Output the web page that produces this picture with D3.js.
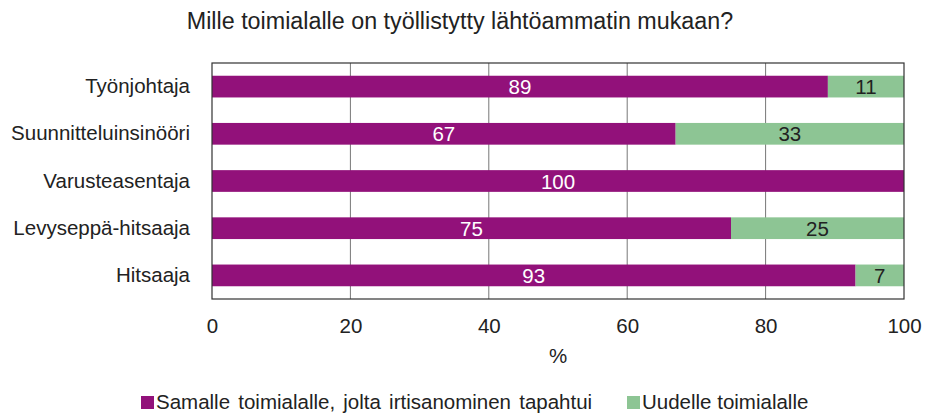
<!DOCTYPE html>
<html><head><meta charset="utf-8">
<script src="https://cdn.jsdelivr.net/npm/d3@7"></script>
<style>body{margin:0;background:#fff}svg text{font-family:"Liberation Sans",Arial,sans-serif;}</style>
</head><body><svg id="c" width="926" height="415"></svg>
<script>
const categories = ["Työnjohtaja","Suunnitteluinsinööri","Varusteasentaja","Levyseppä-hitsaaja","Hitsaaja"];
const same = [89,67,100,75,93];
const newInd = [11,33,0,25,7];
const seriesNames = ["Samalle toimialalle, jolta irtisanominen tapahtui","Uudelle toimialalle"];
const xTicks = [0,20,40,60,80,100];
const colors = ["#92117a","#8dc594"];

const svg = d3.select("#c");
const m = {l:212,r:904,t:63,b:299};
const x = d3.scaleLinear().domain([0,100]).range([m.l,m.r]);
const y = d3.scaleBand().domain(categories).range([m.t,m.b]).paddingInner(0.54).paddingOuter(0.27);
const FS = 20.5;

svg.append("text").attr("x",460).attr("y",29).attr("text-anchor","middle").attr("font-size",23.3).attr("fill","#222")
  .text("Mille toimialalle on työllistytty lähtöammatin mukaan?");

// gridlines
svg.append("g").selectAll("line").data(xTicks.slice(1,-1)).join("line")
  .attr("x1",d=>x(d)).attr("x2",d=>x(d)).attr("y1",m.t).attr("y2",m.b).attr("stroke","#777").attr("stroke-width",1);

const rows = categories.map((c,i)=>({c,a:same[i],b:newInd[i]}));
const g = svg.append("g");
g.selectAll("rect.a").data(rows).join("rect").attr("class","a")
  .attr("x",x(0)).attr("y",d=>y(d.c)).attr("width",d=>x(d.a)-x(0)).attr("height",y.bandwidth()).attr("fill",colors[0]);
g.selectAll("rect.b").data(rows.filter(d=>d.b>0)).join("rect").attr("class","b")
  .attr("x",d=>x(d.a)).attr("y",d=>y(d.c)).attr("width",d=>x(d.a+d.b)-x(d.a)).attr("height",y.bandwidth()).attr("fill",colors[1]);
g.selectAll("text.a").data(rows).join("text").attr("class","a")
  .attr("x",d=>x(d.a/2)).attr("y",d=>y(d.c)+y.bandwidth()/2+7.5).attr("text-anchor","middle").attr("font-size",FS).attr("fill","#fff").text(d=>d.a);
g.selectAll("text.b").data(rows.filter(d=>d.b>0)).join("text").attr("class","b")
  .attr("x",d=>x(d.a+d.b/2)).attr("y",d=>y(d.c)+y.bandwidth()/2+7.5).attr("text-anchor","middle").attr("font-size",FS).attr("fill","#222").text(d=>d.b);

// frame
svg.append("rect").attr("x",m.l).attr("y",m.t).attr("width",m.r-m.l).attr("height",m.b-m.t).attr("fill","none").attr("stroke","#333").attr("stroke-width",1.2);

// y labels
const ya = svg.append("g").attr("transform",`translate(${m.l},0)`).call(d3.axisLeft(y).tickSize(0).tickPadding(22));
ya.select(".domain").remove();
ya.selectAll("text").attr("font-size",FS).attr("fill","#222").attr("font-family","Liberation Sans, Arial, sans-serif");

// x labels
const xa = svg.append("g").attr("transform",`translate(0,${m.b})`).call(d3.axisBottom(x).tickValues(xTicks).tickSize(0).tickPadding(19));
xa.select(".domain").remove();
xa.selectAll("text").attr("font-size",FS).attr("fill","#222").attr("font-family","Liberation Sans, Arial, sans-serif");

svg.append("text").attr("x",558).attr("y",363).attr("text-anchor","middle").attr("font-size",FS).attr("fill","#222").text("%");

// legend
const lg = svg.append("g");
const items = [{n:seriesNames[0],c:colors[0],x:141,ws:2.5},{n:seriesNames[1],c:colors[1],x:627,ws:0}];
items.forEach(it=>{
  lg.append("rect").attr("x",it.x).attr("y",396).attr("width",13).attr("height",13).attr("fill",it.c);
  lg.append("text").attr("x",it.x+15).attr("y",409).attr("font-size",FS).attr("word-spacing",it.ws).attr("fill","#222").text(it.n);
});
</script></body></html>
